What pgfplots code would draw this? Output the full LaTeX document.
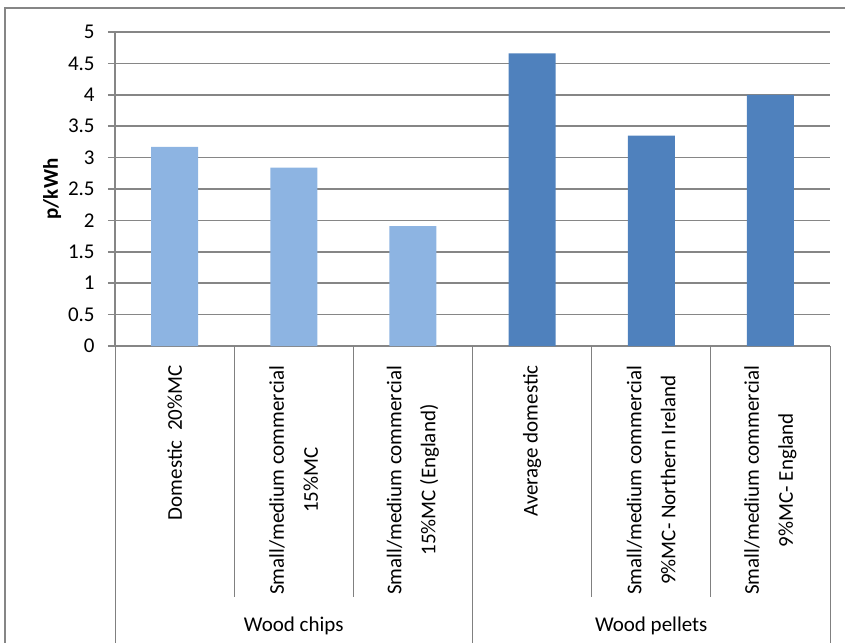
\documentclass[border=0pt]{standalone}
\usepackage{pgfplots}
\pgfplotsset{compat=1.18}
\usepackage{fontspec}
\setmainfont{Carlito}
\definecolor{chips}{RGB}{141,180,226}
\definecolor{pellets}{RGB}{79,129,189}
\definecolor{gridgray}{RGB}{134,134,134}
\definecolor{sepgray}{RGB}{128,128,128}

\begin{document}
\begin{tikzpicture}
% picture area: 845x642 px at 0.5pt per px, axis origin at px (115,346)
\useasboundingbox (-57.5pt,-148pt) rectangle (365pt,173pt);
\draw[gridgray, line width=0.8pt] (-55pt,-160pt) -- (-55pt,169pt) -- (375pt,169pt);
\begin{axis}[
    at={(0,0)}, anchor=south west,
    scale only axis,
    width=357.5pt,
    height=157pt,
    xmin=-0.5, xmax=5.5,
    ymin=0, ymax=5,
    axis x line*=bottom,
    axis y line*=left,
    axis line style={-, draw=gridgray, line width=0.8pt},
    ytick={0,0.5,...,5},
    ymajorgrids=true,
    grid style={gridgray, line width=0.8pt},
    tick align=outside,
    major tick length=3.5pt,
    ytick style={draw=gridgray, line width=0.8pt},
    xtick style={draw=none},
    xtick={0,1,2,3,4,5},
    xticklabels={
        {Domestic\ \ 20\%MC},
        {Small/medium commercial\\15\%MC},
        {Small/medium commercial\\15\%MC (England)},
        {Average domestic},
        {Small/medium commercial\\9\%MC- Northern Ireland},
        {Small/medium commercial\\9\%MC- England}},
    xticklabel style={rotate=90, anchor=east, align=center, inner sep=0pt,
        font=\fontsize{10.5}{17}\selectfont},
    xticklabel shift=6pt,
    yticklabel style={anchor=east, inner sep=0pt, font=\fontsize{10.5}{12}\selectfont},
    yticklabel shift=6.5pt,
    /pgf/number format/assume math mode=true,
    ylabel={p/kWh},
    ylabel style={at={(axis description cs:-0.088,0.5)}, anchor=center,
        font=\bfseries\fontsize{10.5}{12}\selectfont},
    ybar,
    bar width=23.5pt,
    clip=false,
]
\addplot[draw=none, fill=chips, bar shift=0pt] coordinates {
    (0, 3.17) (1, 2.84) (2, 1.91)
};
\addplot[draw=none, fill=pellets, bar shift=0pt] coordinates {
    (3, 4.66) (4, 3.35) (5, 4.00)
};
% category separators
\draw[sepgray, line width=0.5pt] (axis cs:0.5,0) -- ++(0pt,-125.5pt);
\draw[sepgray, line width=0.5pt] (axis cs:1.5,0) -- ++(0pt,-125.5pt);
\draw[sepgray, line width=0.5pt] (axis cs:3.5,0) -- ++(0pt,-125.5pt);
\draw[sepgray, line width=0.5pt] (axis cs:4.5,0) -- ++(0pt,-125.5pt);
\draw[sepgray, line width=0.5pt] (axis cs:-0.5,0) -- ++(0pt,-160pt);
\draw[sepgray, line width=0.5pt] (axis cs:2.5,0) -- ++(0pt,-160pt);
\draw[sepgray, line width=0.5pt] (axis cs:5.5,0) -- ++(0pt,-160pt);
\node[font=\fontsize{10.5}{12}\selectfont] at ([yshift=-140pt]axis cs:1,0) {Wood chips};
\node[font=\fontsize{10.5}{12}\selectfont] at ([yshift=-140pt]axis cs:4,0) {Wood pellets};
\end{axis}
\end{tikzpicture}
\end{document}
